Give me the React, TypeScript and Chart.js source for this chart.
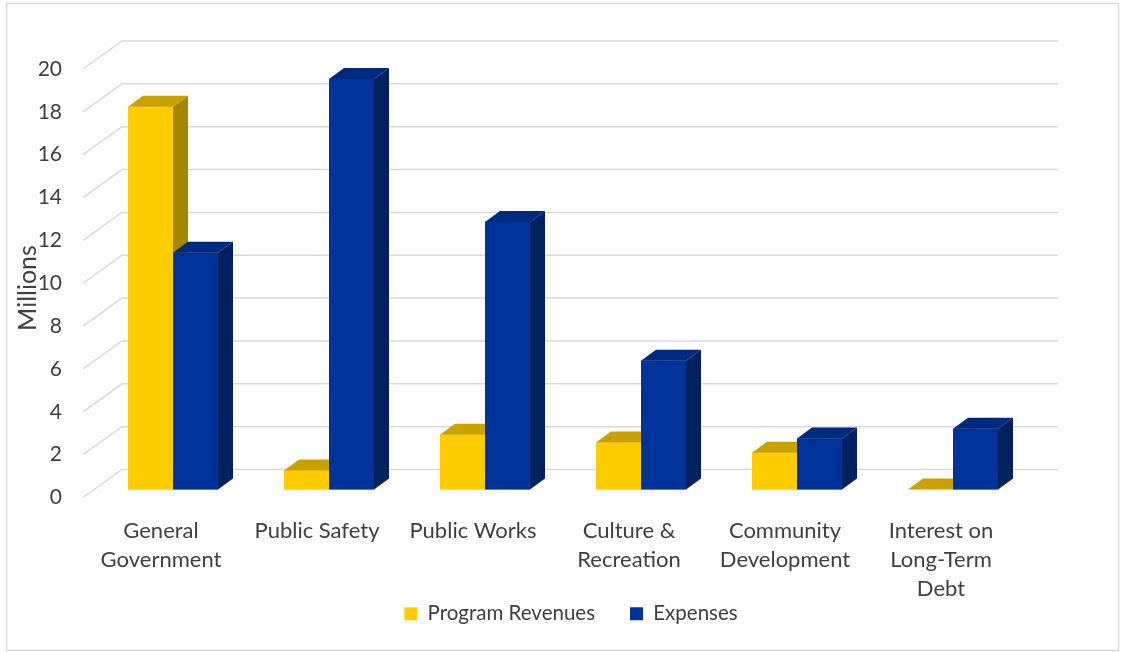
import React, { useEffect, useRef } from "react";
import { Chart, registerables } from "chart.js";

Chart.register(...registerables);

// ---- data ----
const categories: (string | string[])[] = [
  ["General", "Government"],
  "Public Safety",
  "Public Works",
  ["Culture &", "Recreation"],
  ["Community", "Development"],
  ["Interest on", "Long-Term", "Debt"],
];
const programRevenues = [17.86, 0.89, 2.56, 2.19, 1.72, 0];
const expenses = [11.05, 19.16, 12.49, 6.01, 2.38, 2.84];
const seriesNames = ["Program Revenues", "Expenses"];
const yMin = 0;
const yMax = 20;
const yStep = 2;
const axisTitle = "Millions";

// ---- styles ----
const FONT = "Lato, 'Open Sans', sans-serif";
const TEXT = "#404040";
const GRID = "#d9d9d9";
const frontColors = ["#ffcc00", "#003399"];
const sideColors = ["#a68500", "#00215f"];
const topColors = ["#c9a200", "#00297f"];
const BAR_DX = 15;
const BAR_DY = -11;
const WALL_BACK_DX = 27;
const WALL_BACK_DY = -20;
const WALL_FRONT_DX = -12;
const WALL_FRONT_DY = 8;

const threeD = {
  id: "threeD",
  beforeDraw(chart: any) {
    const ctx = chart.ctx;
    ctx.save();
    ctx.fillStyle = "#ffffff";
    ctx.fillRect(0, 0, chart.width, chart.height);
    ctx.strokeStyle = GRID;
    ctx.lineWidth = 1.5;
    ctx.strokeRect(6.5, 3.5, 1112, 647);
    ctx.restore();
  },
  beforeDatasetsDraw(chart: any) {
    const { ctx, chartArea, scales } = chart;
    const y = scales.y;
    ctx.save();
    ctx.strokeStyle = GRID;
    ctx.lineWidth = 1.5;
    for (const t of y.ticks) {
      const py = y.getPixelForValue(t.value);
      ctx.beginPath();
      ctx.moveTo(chartArea.left + WALL_FRONT_DX, py + WALL_FRONT_DY);
      ctx.lineTo(chartArea.left + WALL_BACK_DX, py + WALL_BACK_DY);
      ctx.lineTo(chartArea.right + WALL_BACK_DX, py + WALL_BACK_DY);
      ctx.stroke();
    }
    // axis title
    ctx.translate(28, 288);
    ctx.rotate(-Math.PI / 2);
    ctx.fillStyle = TEXT;
    ctx.font = `25px ${FONT}`;
    ctx.textAlign = "center";
    ctx.textBaseline = "middle";
    ctx.fillText(axisTitle, 0, 0);
    ctx.restore();
  },
  afterDatasetsDraw(chart: any) {
    const ctx = chart.ctx;
    const metas = [chart.getDatasetMeta(0), chart.getDatasetMeta(1)];
    const n = chart.data.labels.length;
    ctx.save();
    for (let i = 0; i < n; i++) {
      for (let d = 0; d < metas.length; d++) {
        const el = metas[d].data[i];
        if (!el) continue;
        const { x, y, base, width } = el.getProps(["x", "y", "base", "width"], true);
        const l = x - width / 2;
        const r = x + width / 2;
        // front
        ctx.fillStyle = frontColors[d];
        ctx.fillRect(l, y, width, base - y);
        // side
        ctx.fillStyle = sideColors[d];
        ctx.beginPath();
        ctx.moveTo(r, y);
        ctx.lineTo(r + BAR_DX, y + BAR_DY);
        ctx.lineTo(r + BAR_DX, base + BAR_DY);
        ctx.lineTo(r, base);
        ctx.closePath();
        ctx.fill();
        // top
        ctx.fillStyle = topColors[d];
        ctx.beginPath();
        ctx.moveTo(l, y);
        ctx.lineTo(r, y);
        ctx.lineTo(r + BAR_DX, y + BAR_DY);
        ctx.lineTo(l + BAR_DX, y + BAR_DY);
        ctx.closePath();
        ctx.fill();
      }
    }
    ctx.restore();
  },
};

export default function App() {
  const ref = useRef<HTMLCanvasElement>(null);
  useEffect(() => {
    document.body.style.margin = "0";
    const chart = new Chart(ref.current as HTMLCanvasElement, {
      type: "bar",
      data: {
        labels: categories as any,
        datasets: [
          {
            label: seriesNames[0],
            data: programRevenues,
            backgroundColor: frontColors[0],
            borderWidth: 0,
            categoryPercentage: 0.577,
            barPercentage: 1.0,
          },
          {
            label: seriesNames[1],
            data: expenses,
            backgroundColor: frontColors[1],
            borderWidth: 0,
            categoryPercentage: 0.577,
            barPercentage: 1.0,
          },
        ],
      },
      options: {
        responsive: false,
        animation: false,
        devicePixelRatio: 1,
        layout: { padding: { left: 17, right: 0, top: 61, bottom: 18 } },
        plugins: {
          legend: {
            position: "bottom",
            labels: {
              boxWidth: 13,
              boxHeight: 13,
              padding: 35,
              color: TEXT,
              font: { family: FONT, size: 20.5 },
            },
          },
          tooltip: { enabled: false },
        },
        scales: {
          x: {
            grid: { display: false, drawTicks: false },
            border: { display: false },
            ticks: {
              color: TEXT,
              font: { family: FONT, size: 22, lineHeight: "29px" } as any,
              padding: 27,
              labelOffset: -12,
              maxRotation: 0,
              autoSkip: false,
            },
            afterFit: (s: any) => {
              s.height = 79;
              // let multi-line category labels extend below the axis box
              s._computeLabelArea = () => undefined;
            },
          },
          y: {
            min: yMin,
            max: yMax,
            grid: { display: false, drawTicks: false },
            border: { display: false },
            ticks: {
              stepSize: yStep,
              padding: 33,
              labelOffset: 8,
              color: TEXT,
              font: { family: FONT, size: 21 },
            },
            afterFit: (s: any) => {
              s.width = 78;
            },
          },
          y2: {
            type: "linear",
            position: "right",
            display: true,
            grid: { display: false, drawTicks: false },
            border: { display: false },
            ticks: { display: false },
            afterFit: (s: any) => {
              s.width = 94;
            },
          },
        },
      },
      plugins: [threeD],
    } as any);
    return () => chart.destroy();
  }, []);
  return (
    <canvas
      ref={ref}
      width={1125}
      height={652}
      style={{ display: "block", width: 1125, height: 652 }}
    />
  );
}
